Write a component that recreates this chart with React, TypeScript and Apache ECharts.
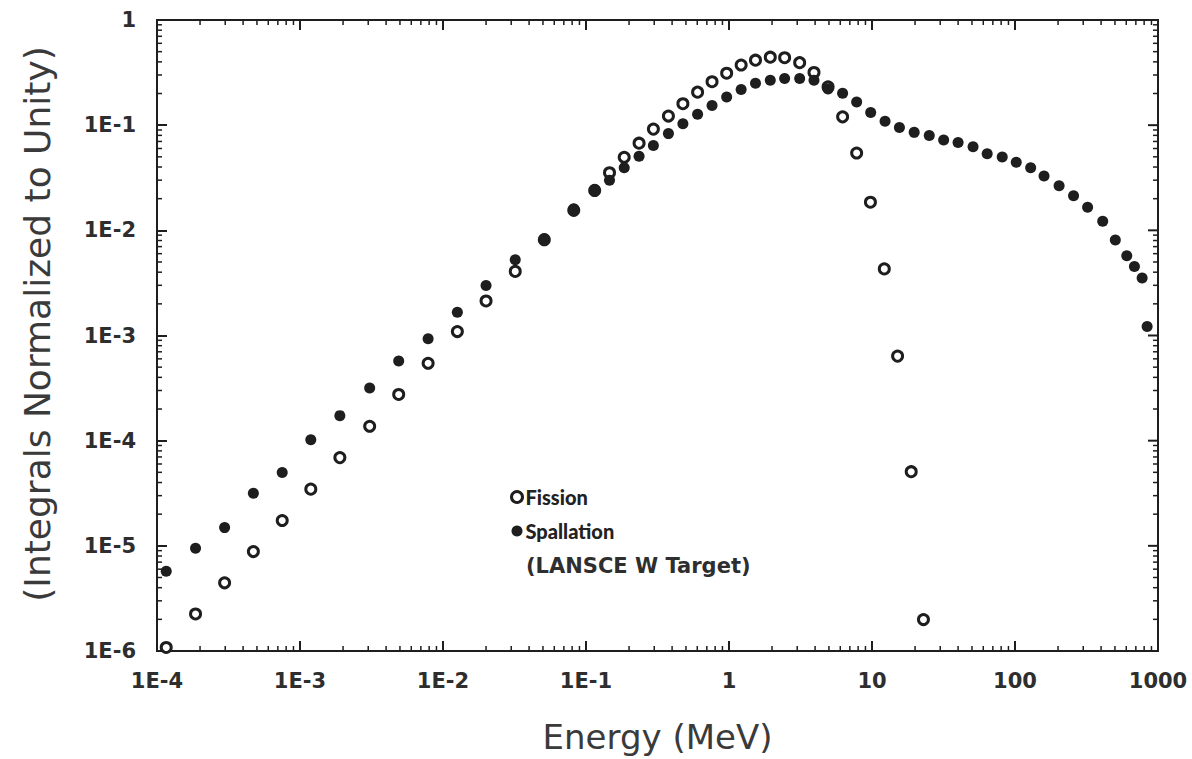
import React, { useEffect, useRef } from "react";
import * as echarts from "echarts";

// Energies (MeV) of the plotted points
const energySpallation = [
  1.16e-4, 1.86e-4, 2.97e-4, 4.72e-4, 7.51e-4, 1.19e-3, 1.9e-3, 3.07e-3, 4.9e-3, 7.87e-3,
  1.26e-2, 2.0e-2, 3.2e-2, 5.11e-2, 8.21e-2, 0.115, 0.146, 0.185, 0.235, 0.296,
  0.377, 0.476, 0.603, 0.761, 0.963, 1.216, 1.532, 1.944, 2.449, 3.12,
  3.93, 4.93, 6.23, 7.81, 9.79, 12.34, 15.55, 19.72, 25.14, 31.7,
  40.0, 50.9, 63.9, 81.4, 102, 128.7, 159.6, 203.4, 256.7, 321.9,
  410.5, 503, 604.8, 684, 774.5, 839.5,
];
const spallation = [
  5.73e-6, 9.47e-6, 1.49e-5, 3.17e-5, 4.99e-5, 1.02e-4, 1.73e-4, 3.17e-4, 5.72e-4, 9.33e-4,
  1.66e-3, 2.99e-3, 5.25e-3, 8.36e-3, 1.6e-2, 2.46e-2, 2.99e-2, 3.93e-2, 5.06e-2, 6.41e-2,
  8.31e-2, 0.103, 0.127, 0.154, 0.185, 0.218, 0.25, 0.268, 0.278, 0.278,
  0.268, 0.221, 0.201, 0.166, 0.132, 0.109, 0.0952, 0.0854, 0.0796, 0.0724,
  0.0684, 0.0622, 0.0535, 0.0498, 0.0444, 0.0393, 0.0328, 0.0265, 0.0213, 0.0166,
  0.0122, 0.00808, 0.00572, 0.00454, 0.00353, 0.00122,
];
const energyFission = [
  1.16e-4, 1.86e-4, 2.97e-4, 4.72e-4, 7.51e-4, 1.19e-3, 1.9e-3, 3.07e-3, 4.9e-3, 7.87e-3,
  1.26e-2, 2.0e-2, 3.2e-2, 5.11e-2, 8.21e-2, 0.115, 0.146, 0.185, 0.235, 0.296,
  0.377, 0.476, 0.603, 0.761, 0.963, 1.216, 1.532, 1.944, 2.449, 3.12,
  3.93, 4.93, 6.23, 7.81, 9.75, 12.19, 15.1, 18.8, 22.9,
];
const fission = [
  1.08e-6, 2.25e-6, 4.45e-6, 8.82e-6, 1.74e-5, 3.46e-5, 6.9e-5, 1.37e-4, 2.75e-4, 5.44e-4,
  1.09e-3, 2.13e-3, 4.07e-3, 8.13e-3, 1.55e-2, 2.39e-2, 3.53e-2, 4.95e-2, 6.74e-2, 9.17e-2,
  0.122, 0.16, 0.206, 0.259, 0.312, 0.373, 0.415, 0.443, 0.438, 0.393,
  0.317, 0.231, 0.12, 0.0543, 0.0185, 0.0043, 6.37e-4, 5.07e-5, 1.99e-6,
];

const xTickLabels = ["1E-4", "1E-3", "1E-2", "1E-1", "1", "10", "100", "1000"];
const yTickLabels = ["1E-6", "1E-5", "1E-4", "1E-3", "1E-2", "1E-1", "1"];
const xMinExp = -4;
const xMaxExp = 3;
const yMinExp = -6;
const yMaxExp = 0;

const FONT = "DejaVu Sans";
const LEGEND_FONT = "Lato";
const INK = "#1e1e1e";
const TEXT = "#2e2e2e";

export default function App() {
  const ref = useRef<HTMLDivElement>(null);

  useEffect(() => {
    document.body.style.margin = "0";
    const chart = echarts.init(ref.current!, undefined, { renderer: "svg" });

    const xMin = 1e-4;
    const xMax = 1e3;
    const yMin = 1e-6;
    const yMax = 1;

    const xLab = (v: number) => xTickLabels[Math.round(Math.log10(v)) - xMinExp] ?? "";
    const yLab = (v: number) => yTickLabels[Math.round(Math.log10(v)) - yMinExp] ?? "";

    // tick positions: decades (major) and 2..9 (minor)
    const xMajorT: number[] = [];
    const xMinorT: number[] = [];
    for (let e = xMinExp; e <= xMaxExp; e++) {
      xMajorT.push(Number("1e" + e));
      if (e < xMaxExp) for (let k = 2; k <= 9; k++) xMinorT.push(Number(k + "e" + e));
    }
    const yMajorT: number[] = [];
    const yMinorT: number[] = [];
    for (let e = yMinExp; e <= yMaxExp; e++) {
      yMajorT.push(Number("1e" + e));
      if (e < yMaxExp) for (let k = 2; k <= 9; k++) yMinorT.push(Number(k + "e" + e));
    }

    const tickSeries = (data: number[][], size: number[], offset: number[]) => ({
      type: "scatter",
      silent: true,
      clip: false,
      symbol: "rect",
      symbolSize: size,
      symbolOffset: offset,
      itemStyle: { color: INK, opacity: 1 },
      data,
      z: 5,
    });

    const MJ = 10;
    const MN = 5;
    const option: any = {
      animation: false,
      grid: {
        show: true,
        left: 157,
        right: 34,
        top: 20,
        bottom: 99,
        containLabel: false,
        borderColor: INK,
        borderWidth: 2,
        backgroundColor: "transparent",
      },
      xAxis: {
        type: "log",
        logBase: 10,
        min: xMin,
        max: xMax,
        axisLine: { show: true, lineStyle: { color: INK, width: 2 } },
        axisTick: { show: true, inside: true, length: MJ, lineStyle: { color: INK, width: 2 } },
        splitLine: { show: false },
        axisLabel: {
          formatter: xLab,
          margin: 19,
          color: TEXT,
          fontFamily: FONT,
          fontWeight: "bold",
          fontSize: 21,
        },
        name: "Energy (MeV)",
        nameLocation: "middle",
        nameGap: 69,
        nameTextStyle: { color: "#3a3a3a", fontFamily: FONT, fontSize: 34 },
      },
      yAxis: {
        type: "log",
        logBase: 10,
        min: yMin,
        max: yMax,
        axisLine: { show: true, lineStyle: { color: INK, width: 2 } },
        axisTick: { show: true, inside: true, length: MJ, lineStyle: { color: INK, width: 2 } },
        splitLine: { show: false },
        axisLabel: {
          formatter: yLab,
          margin: 21,
          color: TEXT,
          fontFamily: FONT,
          fontWeight: "bold",
          fontSize: 21,
        },
      },
      legend: {
        orient: "vertical",
        left: 505,
        top: 482,
        itemGap: 14,
        itemWidth: 11,
        itemHeight: 11,
        selectedMode: false,
        textStyle: { color: "#222", fontFamily: LEGEND_FONT, fontWeight: 900, fontSize: 20, padding: [0, 0, 0, -2] },
        data: [
          { name: "Fission", icon: "circle", itemStyle: { color: "#ffffff", borderColor: INK, borderWidth: 3 } },
          { name: "Spallation", icon: "circle", itemStyle: { color: INK } },
        ],
      },
      graphic: [
        {
          type: "text",
          left: 526,
          top: 555,
          style: { text: "(LANSCE W Target)", fill: TEXT, font: `bold 21px "${FONT}"` },
        },
        {
          type: "text",
          x: 37,
          y: 324,
          rotation: Math.PI / 2,
          style: {
            text: "(Integrals Normalized to Unity)",
            fill: "#3a3a3a",
            font: `36px "${FONT}"`,
            align: "center",
            verticalAlign: "middle",
          },
        },
      ],
      series: [
        // top ticks (major) and minor ticks on all four sides
        tickSeries(xMajorT.map((v) => [v, yMax]), [2, MJ], [0, MJ / 2]),
        tickSeries(xMinorT.map((v) => [v, yMin]), [1.5, MN], [0, -MN / 2]),
        tickSeries(xMinorT.map((v) => [v, yMax]), [1.5, MN], [0, MN / 2]),
        tickSeries(yMajorT.map((v) => [xMax, v]), [MJ, 2], [-MJ / 2, 0]),
        tickSeries(yMinorT.map((v) => [xMin, v]), [MN, 1.5], [MN / 2, 0]),
        tickSeries(yMinorT.map((v) => [xMax, v]), [MN, 1.5], [-MN / 2, 0]),
        {
          name: "Fission",
          type: "scatter",
          symbol: "circle",
          symbolSize: 10,
          itemStyle: { color: "#ffffff", borderColor: INK, borderWidth: 3, opacity: 1 },
          data: energyFission.map((e, i) => [e, fission[i]]),
          z: 6,
        },
        {
          name: "Spallation",
          type: "scatter",
          symbol: "circle",
          symbolSize: 11,
          itemStyle: { color: INK, opacity: 1 },
          data: energySpallation.map((e, i) => [e, spallation[i]]),
          z: 7,
        },
      ],
    };

    chart.setOption(option);
    return () => chart.dispose();
  }, []);

  return <div ref={ref} style={{ width: 1192, height: 759 }} />;
}
